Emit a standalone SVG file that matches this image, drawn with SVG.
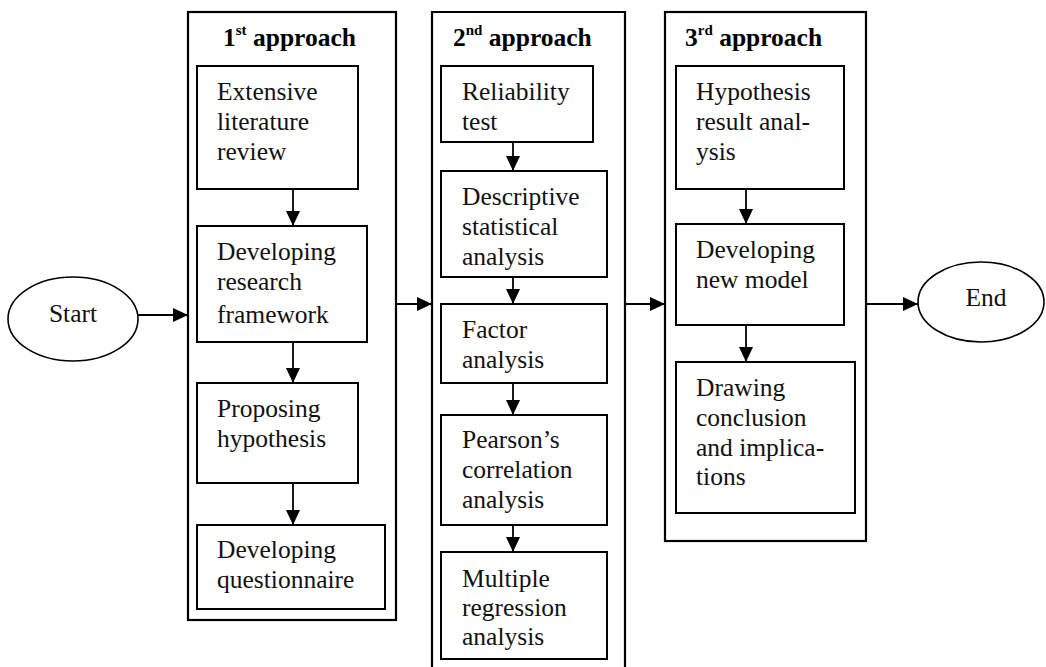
<svg xmlns="http://www.w3.org/2000/svg" width="1046" height="667" viewBox="0 0 1046 667">
<defs>
<marker id="ah" viewBox="0 0 15 14" refX="15" refY="7" markerWidth="15" markerHeight="14" markerUnits="userSpaceOnUse" orient="auto">
<path d="M0,0 L15,7 L0,14 Z" fill="#000"/>
</marker>
</defs>
<style>
.box{fill:#fff;stroke:#000;stroke-width:2}
.outer{fill:none;stroke:#000;stroke-width:2.2}
.ell{fill:#fff;stroke:#000;stroke-width:1.6}
.t{font-family:"Liberation Serif","Times New Roman",serif;font-size:25.5px;fill:#111}
.h{font-family:"Liberation Serif","Times New Roman",serif;font-size:25.5px;font-weight:bold;fill:#000}
.sup{font-size:15px}
.c{stroke:#000;stroke-width:1.8;fill:none;marker-end:url(#ah)}
</style>
<rect width="1046" height="667" fill="#fff"/>

<g id="approach1">
<rect class="outer" x="188" y="12" width="208" height="608"/>
<text class="h" x="223" y="46">1<tspan class="sup" dy="-11">st</tspan><tspan dy="11"> approach</tspan></text>
</g>
<g id="approach2">
<path class="outer" d="M432,670 L432,12 L625,12 L625,670"/>
<text class="h" x="453" y="46">2<tspan class="sup" dy="-11">nd</tspan><tspan dy="11"> approach</tspan></text>
</g>
<g id="approach3">
<rect class="outer" x="665" y="12" width="201" height="529"/>
<text class="h" x="685" y="46">3<tspan class="sup" dy="-11">rd</tspan><tspan dy="11"> approach</tspan></text>
</g>

<g id="start">
<ellipse class="ell" cx="73" cy="319" rx="65" ry="42"/>
<text class="t" x="73" y="322" text-anchor="middle">Start</text>
</g>
<g id="end">
<ellipse class="ell" cx="981" cy="302" rx="63" ry="40"/>
<text class="t" x="986" y="306" text-anchor="middle">End</text>
</g>

<g id="n-literature">
<rect class="box" x="197" y="66" width="161" height="123"/>
<text class="t" x="217" y="100">Extensive</text>
<text class="t" x="217" y="130">literature</text>
<text class="t" x="217" y="160">review</text>
</g>
<g id="n-framework">
<rect class="box" x="197" y="226" width="170" height="116"/>
<text class="t" x="217" y="260">Developing</text>
<text class="t" x="217" y="290">research</text>
<text class="t" x="217" y="323">framework</text>
</g>
<g id="n-hypothesis">
<rect class="box" x="197" y="383" width="161" height="100"/>
<text class="t" x="217" y="417">Proposing</text>
<text class="t" x="217" y="447">hypothesis</text>
</g>
<g id="n-questionnaire">
<rect class="box" x="197" y="525" width="188" height="84"/>
<text class="t" x="217" y="558">Developing</text>
<text class="t" x="217" y="588">questionnaire</text>
</g>

<g id="n-reliability">
<rect class="box" x="441" y="66" width="152" height="76"/>
<text class="t" x="462" y="100">Reliability</text>
<text class="t" x="462" y="130">test</text>
</g>
<g id="n-descriptive">
<rect class="box" x="441" y="171" width="166" height="106"/>
<text class="t" x="462" y="205">Descriptive</text>
<text class="t" x="462" y="235">statistical</text>
<text class="t" x="462" y="265">analysis</text>
</g>
<g id="n-factor">
<rect class="box" x="441" y="304" width="166" height="79"/>
<text class="t" x="462" y="338">Factor</text>
<text class="t" x="462" y="368">analysis</text>
</g>
<g id="n-pearson">
<rect class="box" x="441" y="415" width="166" height="110"/>
<text class="t" x="462" y="448">Pearson’s</text>
<text class="t" x="462" y="478">correlation</text>
<text class="t" x="462" y="508">analysis</text>
</g>
<g id="n-regression">
<rect class="box" x="441" y="552" width="166" height="107"/>
<text class="t" x="462" y="587">Multiple</text>
<text class="t" x="462" y="616">regression</text>
<text class="t" x="462" y="645">analysis</text>
</g>

<g id="n-result">
<rect class="box" x="676" y="66" width="168" height="123"/>
<text class="t" x="696" y="100">Hypothesis</text>
<text class="t" x="696" y="130">result anal-</text>
<text class="t" x="696" y="160">ysis</text>
</g>
<g id="n-model">
<rect class="box" x="676" y="224" width="168" height="101"/>
<text class="t" x="696" y="258">Developing</text>
<text class="t" x="696" y="288">new model</text>
</g>
<g id="n-conclusion">
<rect class="box" x="676" y="362" width="179" height="151"/>
<text class="t" x="696" y="396">Drawing</text>
<text class="t" x="696" y="426">conclusion</text>
<text class="t" x="696" y="456">and implica-</text>
<text class="t" x="696" y="485">tions</text>
</g>

<g id="connectors">
<line class="c" x1="138" y1="315" x2="188" y2="315"/>
<line class="c" x1="396" y1="304" x2="432" y2="304"/>
<line class="c" x1="625" y1="304" x2="665" y2="304"/>
<line class="c" x1="866" y1="304" x2="918" y2="304"/>
<line class="c" x1="293" y1="189" x2="293" y2="226"/>
<line class="c" x1="293" y1="342" x2="293" y2="383"/>
<line class="c" x1="293" y1="483" x2="293" y2="525"/>
<line class="c" x1="513" y1="142" x2="513" y2="171"/>
<line class="c" x1="513" y1="277" x2="513" y2="304"/>
<line class="c" x1="513" y1="383" x2="513" y2="415"/>
<line class="c" x1="513" y1="525" x2="513" y2="552"/>
<line class="c" x1="746" y1="189" x2="746" y2="224"/>
<line class="c" x1="746" y1="325" x2="746" y2="362"/>
</g>
</svg>
